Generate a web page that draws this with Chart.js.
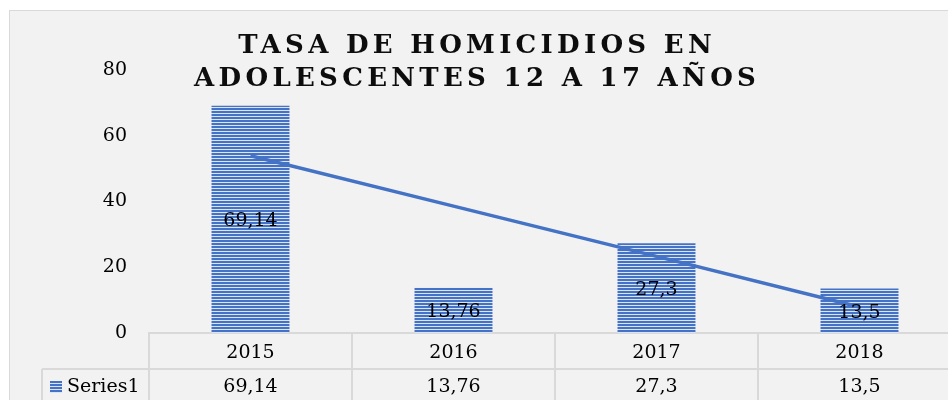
<!DOCTYPE html>
<html><head><meta charset="utf-8">
<script src="https://cdn.jsdelivr.net/npm/chart.js@4.4.1/dist/chart.umd.min.js"></script>
<style>
html,body{margin:0;padding:0;background:#fff;overflow:hidden;width:948px;height:400px;}
#frame{position:absolute;left:9px;top:10px;width:960px;height:400px;background:#f2f2f2;border:1px solid #d9d9d9;}
#wrap{position:absolute;left:0;top:0;width:962px;height:410px;}
</style></head><body>
<div id="frame"></div>
<div id="wrap"><canvas id="c" width="962" height="410"></canvas></div>
<script>
const categories = ['2015', '2016', '2017', '2018'];
const seriesName = 'Series1';
const seriesValues = [69.14, 13.76, 27.3, 13.5];
const trendValues = [53.9, 38.6, 23.3, 7.9];
const yTickStep = 20;
const yMax = 80;
const titleLines = ['TASA DE HOMICIDIOS EN', 'ADOLESCENTES 12 A 17 AÑOS'];

const fmt = v => String(v).replace('.', ',');
const FONT = '"DejaVu Serif", Georgia, serif';
const BLUE = '#4472c4';
const GRID = '#d9d9d9';

function makePattern() {
  const c = document.createElement('canvas');
  c.width = 4; c.height = 3;
  const g = c.getContext('2d');
  g.fillStyle = BLUE; g.fillRect(0, 0, 4, 2);
  g.fillStyle = '#dbe4f4'; g.fillRect(0, 2, 4, 1);
  return document.getElementById('c').getContext('2d').createPattern(c, 'repeat');
}
const pattern = makePattern();

const barLabels = {
  id: 'barLabels',
  afterDatasetsDraw(chart) {
    const ctx = chart.ctx;
    const meta = chart.getDatasetMeta(1);
    ctx.save();
    ctx.font = '19px ' + FONT;
    ctx.fillStyle = '#000';
    ctx.textAlign = 'center';
    ctx.textBaseline = 'middle';
    meta.data.forEach((el, i) => {
      ctx.fillText(fmt(seriesValues[i]), el.x, (el.y + el.base) / 2 + 2);
    });
    ctx.restore();
  }
};

const tablePlugin = {
  id: 'tablePlugin',
  afterDraw(chart) {
    const ctx = chart.ctx;
    const xs = chart.scales.x;
    const top = xs.top, rowH = 36;
    const step = xs.getPixelForValue(1) - xs.getPixelForValue(0);
    ctx.save();
    ctx.strokeStyle = GRID;
    ctx.lineWidth = 2;
    ctx.beginPath();
    for (let i = 0; i <= categories.length; i++) {
      const px = xs.getPixelForValue(0) - step / 2 + i * step;
      ctx.moveTo(px, top); ctx.lineTo(px, chart.height);
    }
    ctx.moveTo(42, top + rowH); ctx.lineTo(chart.width, top + rowH);
    ctx.moveTo(42, top + rowH); ctx.lineTo(42, chart.height);
    ctx.stroke();
    ctx.font = '19px ' + FONT;
    ctx.fillStyle = '#000';
    ctx.textBaseline = 'middle';
    ctx.textAlign = 'center';
    seriesValues.forEach((v, i) => {
      ctx.fillText(fmt(v), xs.getPixelForValue(i), top + rowH + 18);
    });
    ctx.fillStyle = pattern;
    ctx.fillRect(50, 381, 12, 12);
    ctx.fillStyle = '#000';
    ctx.textAlign = 'left';
    ctx.fillText(seriesName, 67, top + rowH + 18);
    ctx.restore();
  }
};

const titlePlugin = {
  id: 'titlePlugin',
  afterDraw(chart) {
    const ctx = chart.ctx;
    ctx.save();
    ctx.font = 'bold 26px ' + FONT;
    ctx.fillStyle = '#0d0d0d';
    ctx.textBaseline = 'alphabetic';
    ctx.textAlign = 'left';
    const ls = 4.3;
    ctx.letterSpacing = ls + 'px';
    const cx = 475;
    const baselines = [53, 86];
    titleLines.forEach((t, i) => {
      const w = ctx.measureText(t).width - ls;
      ctx.fillText(t, cx - w / 2, baselines[i]);
    });
    ctx.restore();
  }
};

new Chart(document.getElementById('c'), {
  type: 'bar',
  data: {
    labels: categories,
    datasets: [
      { type: 'line', label: 'Trend', data: trendValues, borderColor: BLUE, borderWidth: 3.5,
        pointRadius: 0, fill: false, tension: 0, order: 0 },
      { type: 'bar', label: seriesName, data: seriesValues, backgroundColor: pattern,
        barPercentage: 0.384, categoryPercentage: 1, order: 1 }
    ]
  },
  options: {
    responsive: false,
    animation: false,
    devicePixelRatio: 1,
    layout: { padding: { top: 70, right: 1, bottom: 41, left: 0 } },
    plugins: { legend: { display: false }, tooltip: { enabled: false }, title: { display: false } },
    scales: {
      x: {
        grid: { display: false, drawTicks: false },
        border: { display: true, color: GRID, width: 2 },
        ticks: { font: { family: FONT, size: 19 }, color: '#000', padding: 9 },
        afterFit(s) { s.height = 36; }
      },
      y: {
        min: 0, max: yMax,
        ticks: { stepSize: yTickStep, padding: 22, font: { family: FONT, size: 19 }, color: '#000' },
        grid: { display: false, drawTicks: false },
        border: { display: false },
        afterFit(s) { s.width = 149; }
      }
    }
  },
  plugins: [barLabels, tablePlugin, titlePlugin]
});
</script>
</body></html>
